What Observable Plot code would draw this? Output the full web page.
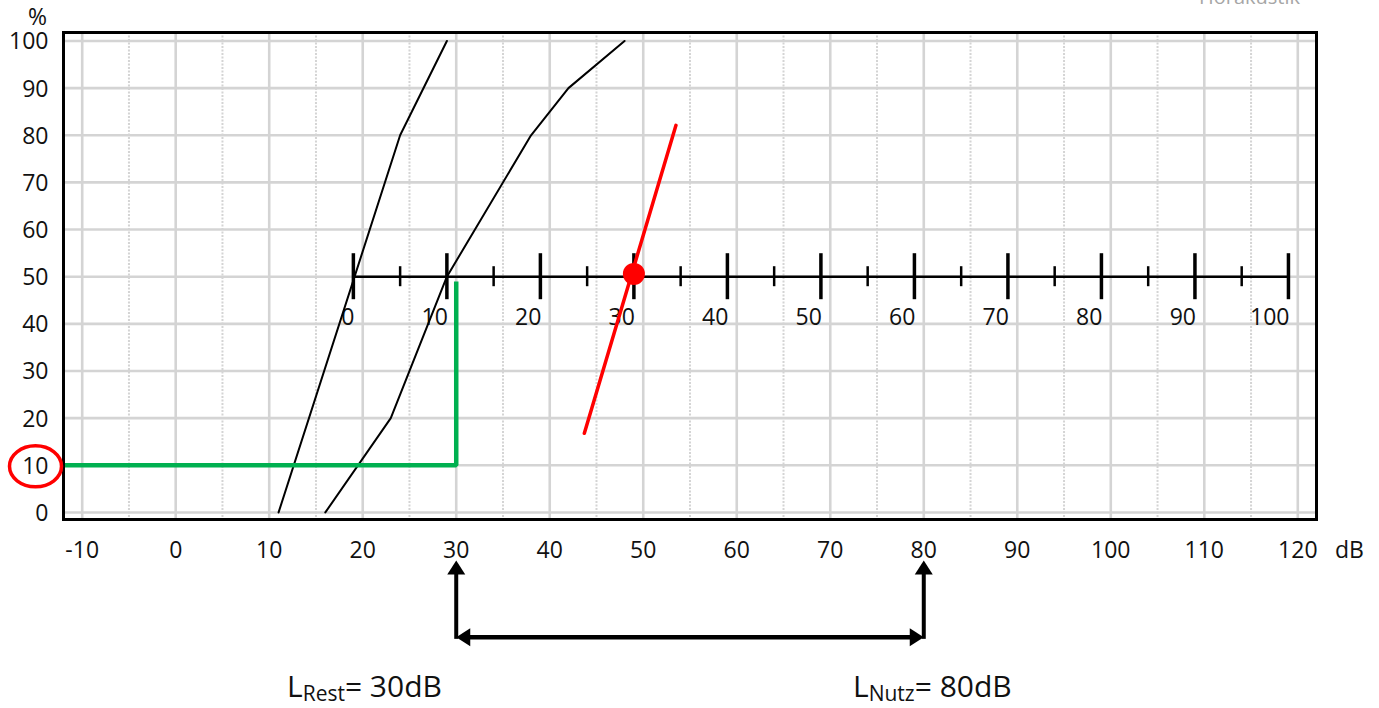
<!DOCTYPE html>
<html>
<head>
<meta charset="utf-8">
<script src="https://cdn.jsdelivr.net/npm/d3@7"></script>
<script src="https://cdn.jsdelivr.net/npm/@observablehq/plot@0.6"></script>
<style>
  body { margin: 0; background: #fff; font-family: "Open Sans", sans-serif; }
  #wrap { position: relative; width: 1379px; height: 708px; overflow: hidden; }
  #chart svg { display: block; }
  .lbl { position: absolute; font-size: 30px; line-height: 30px; color: #111; white-space: nowrap; }
  .lbl sub { font-size: 21px; vertical-align: baseline; position: relative; top: 4px; }
  #wm { position: absolute; left: 1199px; top: -13px; font-size: 20px; line-height: 20px; color: #a6a6a6; white-space: nowrap; }
</style>
</head>
<body>
<div id="wrap">
  <div id="chart"></div>
  <div id="wm">Hörakustik</div>
  <div class="lbl" style="left:287px; top:671px;">L<sub>Rest</sub>= 30dB</div>
  <div class="lbl" style="left:853px; top:671px;">L<sub>Nutz</sub>= 80dB</div>
</div>
<script>
// ---- data ----
const xTicks = [-10, 0, 10, 20, 30, 40, 50, 60, 70, 80, 90, 100, 110, 120];
const xMinorGrid = [-5, 5, 15, 25, 35, 45, 55, 65, 75, 85, 95, 105, 115];
const yTicks = [0, 10, 20, 30, 40, 50, 60, 70, 80, 90, 100];

// speech intelligibility curves (dB, %)
const curveA_dB = [11, 24, 29];
const curveA_pct = [0, 80, 100];
const curveB_dB = [16, 23, 29, 38, 42, 48];
const curveB_pct = [0, 20, 50, 80, 90, 100];

// red line and point
const red_dB = [43.7, 53.5];
const red_pct = [16.8, 82.1];
const redPoint_dB = [49];
const redPoint_pct = [50.6];

// green reading line
const green_dB = [-12, 30, 30];
const green_pct = [10, 10, 49];
const highlightPct = [10];

// inner (relative) scale at 50 %
const innerLevel = 50;
const innerOffset = 19;
const innerMajor = [0, 10, 20, 30, 40, 50, 60, 70, 80, 90, 100];
const innerMinor = [5, 15, 25, 35, 45, 55, 65, 75, 85, 95];

// level annotations
const lRest = 30;
const lNutz = 80;
const arrowTipPct = -10.2;
const arrowBasePct = -26.5;

// ---- tables ----
const curveA = curveA_dB.map((d, i) => ({dB: d, pct: curveA_pct[i]}));
const curveB = curveB_dB.map((d, i) => ({dB: d, pct: curveB_pct[i]}));
const redLine = red_dB.map((d, i) => ({dB: d, pct: red_pct[i]}));
const redPoint = redPoint_dB.map((d, i) => ({dB: d, pct: redPoint_pct[i]}));
const greenPath = green_dB.map((d, i) => ({dB: d, pct: green_pct[i]}));
const innerAxis = [{y: innerLevel, x1: innerOffset + innerMajor[0], x2: innerOffset + innerMajor[innerMajor.length - 1]}];
const innerMajorT = innerMajor.map(v => ({x: v + innerOffset, y: innerLevel, label: String(v)}));
const innerMinorT = innerMinor.map(v => ({x: v + innerOffset, y: innerLevel}));
const levels = [lRest, lNutz];
const vArrows = levels.map(v => ({x: v, y1: arrowTipPct, y2: arrowBasePct}));
const hArrow = [{y: arrowBasePct, x1: lRest, x2: lNutz}];

// ---- custom symbols ----
const arrowHead = {
  draw(ctx) {
    ctx.moveTo(0, 0);
    ctx.lineTo(-9, 14);
    ctx.lineTo(9, 14);
    ctx.closePath();
  }
};
const ellipse = {
  draw(ctx) {
    const rx = 26, ry = 20.5, k = 0.5523;
    ctx.moveTo(rx, 0);
    ctx.bezierCurveTo(rx, ry * k, rx * k, ry, 0, ry);
    ctx.bezierCurveTo(-rx * k, ry, -rx, ry * k, -rx, 0);
    ctx.bezierCurveTo(-rx, -ry * k, -rx * k, -ry, 0, -ry);
    ctx.bezierCurveTo(rx * k, -ry, rx, -ry * k, rx, 0);
    ctx.closePath();
  }
};

const grid = "#d4d4d4";
const ink = "#111";
const fs = 23;

const chart = Plot.plot({
  width: 1379,
  height: 708,
  marginLeft: 63,
  marginRight: 63,
  marginTop: 32,
  marginBottom: 189,
  x: {domain: [-12, 122], axis: null},
  y: {domain: [-1.5, 101.8], axis: null},
  style: {fontFamily: "'Open Sans', sans-serif", fontSize: fs + "px", color: ink, background: "white", overflow: "visible"},
  marks: [
    // grid
    Plot.ruleX(xMinorGrid, {stroke: grid, strokeWidth: 2, strokeDasharray: "2,1.5"}),
    Plot.ruleX(xTicks, {stroke: grid, strokeWidth: 2.6}),
    Plot.ruleY(yTicks, {stroke: grid, strokeWidth: 2.6}),
    // tick labels
    Plot.text(xTicks, {x: d => d, text: d => String(d), frameAnchor: "bottom", lineAnchor: "middle", textAnchor: "middle", dy: 31, fill: ink, fontSize: fs}),
    Plot.text(yTicks, {y: d => d, text: d => String(d), frameAnchor: "left", lineAnchor: "middle", textAnchor: "end", dx: -15, dy: 1, fill: ink, fontSize: fs}),
    Plot.text(["%"], {frameAnchor: "top-left", lineAnchor: "middle", textAnchor: "middle", dx: -26, dy: -15, text: d => d, fill: ink, fontSize: fs}),
    Plot.text(["dB"], {frameAnchor: "bottom-right", lineAnchor: "middle", textAnchor: "middle", dx: 33, dy: 31, text: d => d, fill: ink, fontSize: fs}),
    // inner relative scale
    Plot.ruleY(innerAxis, {y: "y", x1: "x1", x2: "x2", stroke: "black", strokeWidth: 2.5}),
    Plot.ruleX(innerMajorT, {x: "x", y1: "y", y2: "y", insetTop: -23, insetBottom: -23, stroke: "black", strokeWidth: 3.5}),
    Plot.ruleX(innerMinorT, {x: "x", y1: "y", y2: "y", insetTop: -10, insetBottom: -10, stroke: "black", strokeWidth: 2.5}),
    Plot.text(innerMajorT, {x: "x", y: "y", text: "label", textAnchor: "end", lineAnchor: "middle", dy: 41, dx: 1, fill: ink, fontSize: fs}),
    // curves
    Plot.line(curveA, {x: "dB", y: "pct", stroke: "black", strokeWidth: 2}),
    Plot.line(curveB, {x: "dB", y: "pct", stroke: "black", strokeWidth: 2}),
    // green reading
    Plot.line(greenPath, {x: "dB", y: "pct", stroke: "#00b050", strokeWidth: 4.5, strokeLinejoin: "miter", strokeLinecap: "butt"}),
    // red
    Plot.line(redLine, {x: "dB", y: "pct", stroke: "#ff0000", strokeWidth: 3.5}),
    Plot.dot(redPoint, {x: "dB", y: "pct", r: 11, fill: "#ff0000", stroke: null}),
    // frame
    Plot.frame({stroke: "black", strokeWidth: 3}),
    // highlight ellipse around 10 %
    Plot.dot(highlightPct, {y: d => d, frameAnchor: "left", dx: -28, dy: 1, symbol: ellipse, fill: "none", stroke: "#ff0000", strokeWidth: 3.5}),
    // arrows
    Plot.ruleX(vArrows, {x: "x", y1: "y1", y2: "y2", insetTop: 8, insetBottom: -2, stroke: "black", strokeWidth: 4}),
    Plot.ruleY(hArrow, {y: "y", x1: "x1", x2: "x2", insetLeft: 8, insetRight: 8, stroke: "black", strokeWidth: 4.5}),
    Plot.dot(levels, {x: d => d, y: () => arrowTipPct, symbol: arrowHead, fill: "black", stroke: null}),
    Plot.dot([lRest], {x: d => d, y: () => arrowBasePct, symbol: arrowHead, rotate: -90, fill: "black", stroke: null}),
    Plot.dot([lNutz], {x: d => d, y: () => arrowBasePct, symbol: arrowHead, rotate: 90, fill: "black", stroke: null})
  ]
});
document.getElementById("chart").append(chart);
</script>
</body>
</html>
